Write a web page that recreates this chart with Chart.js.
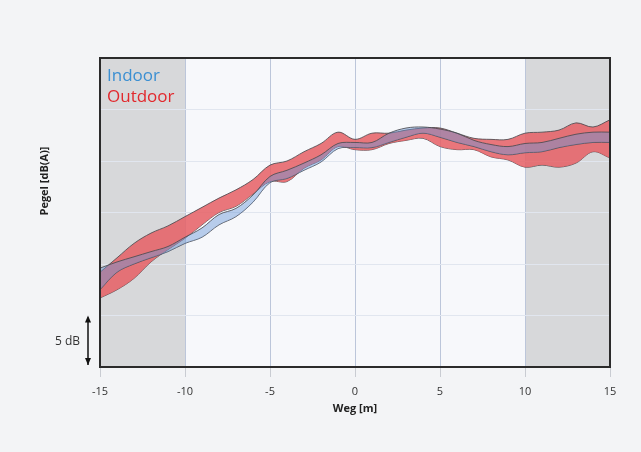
<!DOCTYPE html>
<html>
<head>
<meta charset="utf-8">
<script src="https://cdn.jsdelivr.net/npm/chart.js@4"></script>
<style>
  html, body { margin: 0; padding: 0; background: #f3f4f6; }
  #wrap { width: 641px; height: 452px; }
</style>
</head>
<body>
<div id="wrap"><canvas id="pegelChart" width="641" height="452"></canvas></div>
<script>
// Weg [m] sample positions
const weg = [-15, -14, -13, -12, -11, -10, -9, -8, -7, -6, -5, -4, -3, -2, -1, 0,
             1, 2, 3, 4, 5, 6, 7, 8, 9, 10, 11, 12, 13, 14, 15];

// Pegel [dB] band limits (relative scale)
const outdoorUpper = [9.2, 10.6, 12.0, 13.0, 13.7, 14.6, 15.5, 16.4, 17.2, 18.2, 19.6, 20.0, 20.9, 21.7, 22.8, 22.1,
                      22.7, 22.7, 23.0, 23.2, 23.2, 22.7, 22.2, 22.1, 22.1, 22.7, 22.8, 23.0, 23.7, 23.3, 24.0];
const outdoorLower = [6.7, 7.5, 8.6, 10.2, 11.4, 12.5, 13.8, 15.0, 15.6, 16.8, 18.0, 18.0, 19.3, 20.1, 21.4, 21.1,
                      21.1, 21.7, 22.0, 22.2, 21.4, 21.1, 21.1, 20.4, 20.1, 19.4, 19.6, 19.4, 19.8, 20.9, 20.3];
const indoorUpper = [9.6, 10.2, 10.7, 11.2, 11.7, 12.6, 13.5, 14.8, 15.4, 16.7, 18.5, 19.1, 19.8, 20.6, 21.7, 21.8,
                     21.8, 22.7, 23.2, 23.3, 23.1, 22.7, 22.0, 21.6, 21.4, 21.7, 21.8, 22.2, 22.6, 22.8, 22.8];
const indoorLower = [7.5, 9.2, 10.0, 10.6, 11.2, 12.0, 12.6, 13.8, 14.6, 16.0, 17.9, 18.3, 19.1, 19.9, 21.2, 21.3,
                     21.3, 21.8, 22.3, 22.7, 22.3, 21.8, 21.4, 20.9, 20.6, 20.8, 20.9, 21.3, 21.6, 21.8, 21.8];

// x ranges of the grey shaded zones
const shadedZones = [[-15, -10], [10, 15]];
const xTicks = [-15, -10, -5, 0, 5, 10, 15];
const scaleBarDb = 5;

const toPoints = arr => arr.map((v, i) => ({ x: weg[i], y: v }));

const lineStyle = {
    borderColor: 'rgba(75, 75, 80, 0.85)',
    borderWidth: 1,
    pointRadius: 0,
    tension: 0.35
};

// Plot background + grey zones, drawn under the grid
const backgroundPlugin = {
    id: 'backgroundPlugin',
    beforeDraw(chart) {
        const { ctx, chartArea: a, scales: { x } } = chart;
        ctx.save();
        ctx.fillStyle = '#f7f8fb';
        ctx.fillRect(a.left, a.top, a.right - a.left, a.bottom - a.top);
        ctx.fillStyle = '#d7d8da';
        shadedZones.forEach(z => {
            const x0 = x.getPixelForValue(z[0]);
            const x1 = x.getPixelForValue(z[1]);
            ctx.fillRect(x0, a.top, x1 - x0, a.bottom - a.top);
        });
        ctx.restore();
    }
};

// Frame, legend text, y title and 5 dB bar
const overlayPlugin = {
    id: 'overlayPlugin',
    afterDraw(chart) {
        const { ctx, chartArea: a, scales: { y } } = chart;
        ctx.save();
        ctx.strokeStyle = '#2b2b2b';
        ctx.lineWidth = 2;
        ctx.strokeRect(a.left, a.top, a.right - a.left, a.bottom - a.top);

        ctx.font = '17px "Open Sans", sans-serif';
        ctx.textBaseline = 'alphabetic';
        ctx.textAlign = 'left';
        ctx.fillStyle = '#3b8fd2';
        ctx.fillText('Indoor', a.left + 7, a.top + 23);
        ctx.fillStyle = '#e2282d';
        ctx.fillText('Outdoor', a.left + 7, a.top + 44);

        ctx.fillStyle = '#222';
        ctx.font = 'bold 11px "Open Sans", sans-serif';
        ctx.translate(45, 181);
        ctx.rotate(-Math.PI / 2);
        ctx.textAlign = 'center';
        ctx.textBaseline = 'middle';
        ctx.fillText('Pegel [dB(A)]', 0, 0);
        ctx.setTransform(1, 0, 0, 1, 0, 0);

        const yTop = y.getPixelForValue(scaleBarDb);
        const yBot = y.getPixelForValue(0);
        const bx = a.left - 12;
        ctx.strokeStyle = '#111';
        ctx.lineWidth = 1.5;
        ctx.beginPath();
        ctx.moveTo(bx, yTop + 2);
        ctx.lineTo(bx, yBot - 2);
        ctx.stroke();
        ctx.fillStyle = '#111';
        ctx.beginPath();
        ctx.moveTo(bx, yTop);
        ctx.lineTo(bx - 3, yTop + 7);
        ctx.lineTo(bx + 3, yTop + 7);
        ctx.fill();
        ctx.beginPath();
        ctx.moveTo(bx, yBot - 2);
        ctx.lineTo(bx - 3, yBot - 9);
        ctx.lineTo(bx + 3, yBot - 9);
        ctx.fill();
        ctx.font = '12px "Open Sans", sans-serif';
        ctx.fillStyle = '#333';
        ctx.textAlign = 'right';
        ctx.textBaseline = 'middle';
        ctx.fillText(scaleBarDb + ' dB', bx - 8, (yTop + yBot) / 2);
        ctx.restore();
    }
};

new Chart(document.getElementById('pegelChart'), {
    type: 'line',
    data: {
        datasets: [
            Object.assign({ label: 'Indoor oben', data: toPoints(indoorUpper), fill: '+1',
                backgroundColor: 'rgba(105, 150, 215, 0.45)' }, lineStyle),
            Object.assign({ label: 'Indoor unten', data: toPoints(indoorLower), fill: false }, lineStyle),
            Object.assign({ label: 'Outdoor oben', data: toPoints(outdoorUpper), fill: '+1',
                backgroundColor: 'rgba(230, 95, 100, 0.85)' }, lineStyle),
            Object.assign({ label: 'Outdoor unten', data: toPoints(outdoorLower), fill: false }, lineStyle)
        ]
    },
    options: {
        responsive: false,
        animation: false,
        layout: { padding: { left: 100, right: 31, top: 58, bottom: 33 } },
        plugins: {
            legend: { display: false },
            tooltip: { enabled: false }
        },
        scales: {
            x: {
                type: 'linear',
                min: -15,
                max: 15,
                afterFit: s => { s.height = 52; },
                afterBuildTicks: s => { s.ticks = xTicks.map(v => ({ value: v })); },
                grid: { color: '#bcc6da', tickLength: 10, drawTicks: true, tickColor: '#c9ccd2' },
                border: { display: false },
                ticks: { color: '#333', font: { family: 'Open Sans', size: 11 }, padding: 8 },
                title: { display: true, text: 'Weg [m]', color: '#222',
                         font: { family: 'Open Sans', size: 11, weight: 'bold' } }
            },
            y: {
                min: 0,
                max: 30,
                afterFit: s => { s.width = 0; },
                ticks: { display: false, stepSize: 5 },
                grid: { color: '#e1e6ef', drawTicks: false },
                border: { display: false }
            }
        }
    },
    plugins: [backgroundPlugin, overlayPlugin]
});
</script>
</body>
</html>
